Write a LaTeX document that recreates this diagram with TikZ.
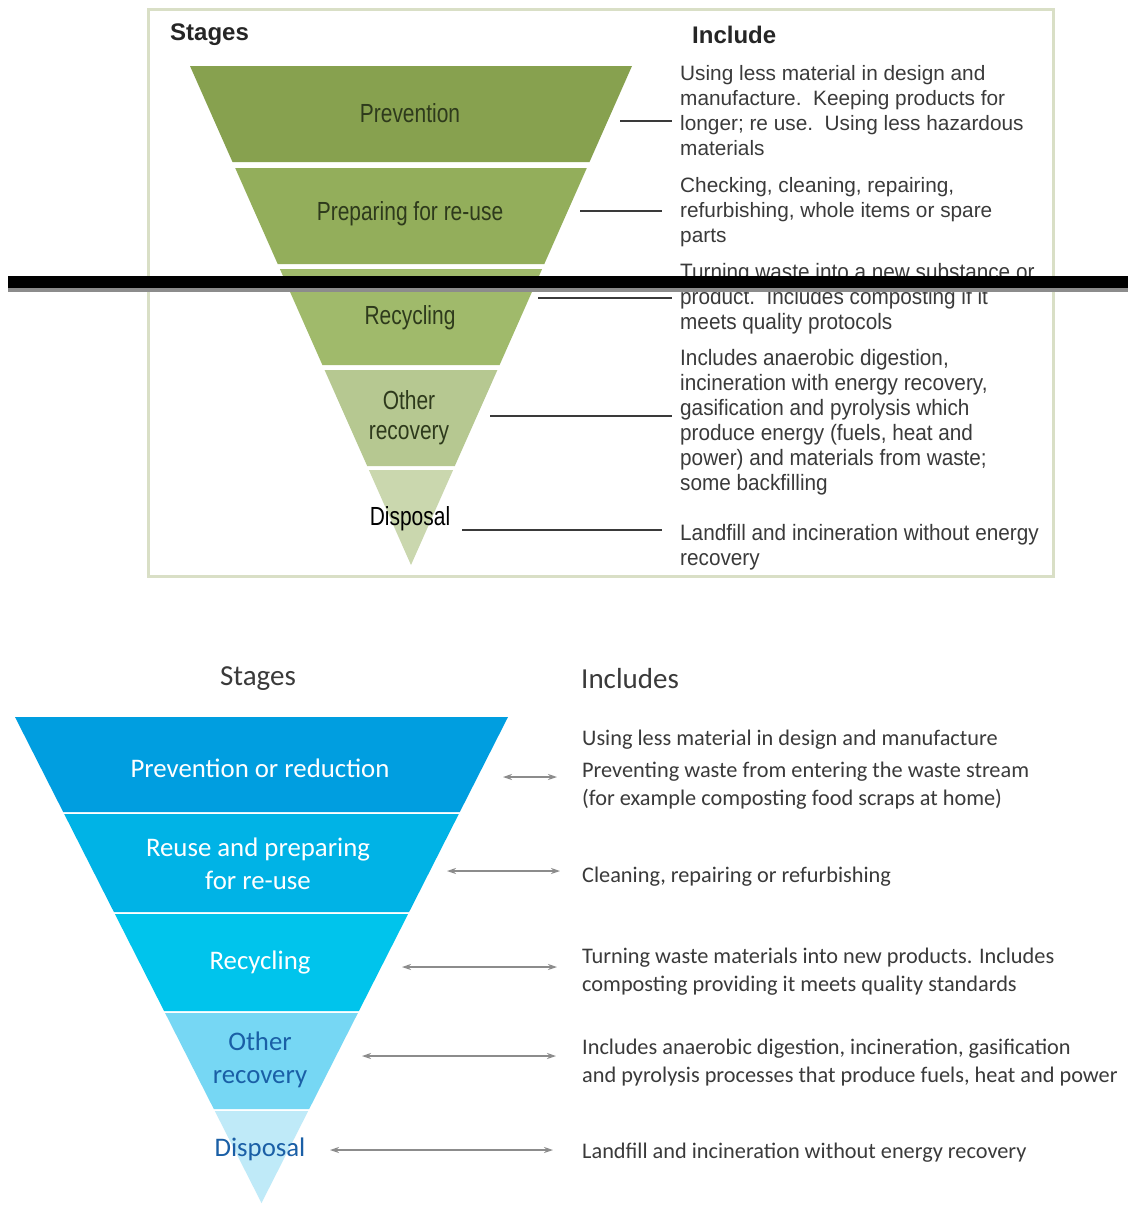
\documentclass[tikz,border=0pt]{standalone}
\usepackage{fontspec}
\usetikzlibrary{arrows.meta}
\setmainfont{Liberation Sans}
\newfontfamily\arialf{Liberation Sans}
\newfontfamily\arialn[FakeStretch=0.93]{Liberation Sans}
\newfontfamily\greenf[FakeStretch=0.8]{Liberation Sans}
\newfontfamily\bluef{Carlito}
\definecolor{gA}{HTML}{87A14F}
\definecolor{gB}{HTML}{93AE5B}
\definecolor{gC}{HTML}{A0BA6B}
\definecolor{gD}{HTML}{B6C891}
\definecolor{gE}{HTML}{CAD7AE}
\definecolor{gtext}{HTML}{2E3A1C}
\definecolor{frame}{HTML}{D9DFC6}
\definecolor{bA}{HTML}{009EE0}
\definecolor{bB}{HTML}{00B3E6}
\definecolor{bC}{HTML}{00C4EC}
\definecolor{bD}{HTML}{76D7F4}
\definecolor{bE}{HTML}{BFEAF8}
\definecolor{btext}{HTML}{1A5FA6}
\definecolor{gray1}{HTML}{3A3A3A}
\definecolor{arrowgray}{HTML}{8C8C8C}
\tikzset{
  toptext/.style={anchor=north west,inner sep=0,align=left,text=gray1,font=\arialf\fontsize{20.8}{25}\selectfont},
  toptextn/.style={anchor=north west,inner sep=0,align=left,text=gray1,font=\arialn\fontsize{22.3}{25}\selectfont},
  greenlabel/.style={inner sep=0,align=center,text=gtext,font=\greenf\fontsize{26.2}{30}\selectfont},
  topline/.style={draw=gray1,line width=2.5pt},
  bluelabel/.style={inner sep=0,align=center,font=\bluef\fontsize{26.8}{33}\selectfont},
  bottext/.style={anchor=north west,inner sep=0,align=left,text=gray1,font=\bluef\fontsize{22.3}{28}\selectfont},
  twoway/.style={draw=arrowgray,line width=2pt,{Stealth[length=9pt,width=6pt]}-{Stealth[length=9pt,width=6pt]}},
}
\begin{document}
\begin{tikzpicture}[x=1pt,y=-1pt]
\useasboundingbox[fill=white] (0,0) rectangle (1128,1205);
% ---------- top (green) ----------
\draw[frame,line width=3pt] (148,9) rectangle (1053,576);
\node[anchor=west,inner sep=0,font=\arialf\bfseries\fontsize{24}{28}\selectfont,text=black!85] (st1) at (170,35) {Stages};
\node[anchor=west,inner sep=0,font=\arialf\bfseries\fontsize{24}{28}\selectfont,text=black!85] (inc1) at (692,35) {Include};
\fill[gA] (190,66) -- (632,66) -- (589.5,162) -- (232.5,162) -- cycle;
\fill[gB] (235.2,168) -- (586.8,168) -- (544.3,264) -- (277.7,264) -- cycle;
\fill[gC] (279.9,269) -- (542.1,269) -- (499.6,365) -- (322.4,365) -- cycle;
\fill[gD] (324.6,370) -- (497.4,370) -- (454.8,466) -- (367.2,466) -- cycle;
\fill[gE] (368.9,470) -- (453.1,470) -- (411,565) -- cycle;
\node[greenlabel] (g1) at (410,113) {Prevention};
\node[greenlabel] (g2) at (410,214) {Preparing for re-use};
\node[greenlabel] (g3) at (410,318) {Recycling};
\node[greenlabel] (g4) at (409,418) {Other\\recovery};
\node[greenlabel,text=black] (g5) at (410,519) {Disposal};
\node[toptext] (t1) at (680,65) {Using less material in design and\\manufacture.\ \ Keeping products for\\longer; re use.\ \ Using less hazardous\\materials};
\node[toptext] (t2) at (680,177) {Checking, cleaning, repairing,\\refurbishing, whole items or spare\\parts};
\node[toptextn] (t3) at (680,263) {Turning waste into a new substance or\\product.\ \ Includes composting if it\\meets quality protocols};
\node[toptextn] (t4) at (680,349) {Includes anaerobic digestion,\\incineration with energy recovery,\\gasification and pyrolysis which\\produce energy (fuels, heat and\\power) and materials from waste;\\some backfilling};
\node[toptextn] (t5) at (680,524) {Landfill and incineration without energy\\recovery};
\coordinate (c1a) at (620,121); \coordinate (c1b) at (672,121);
\coordinate (c2a) at (580,211); \coordinate (c2b) at (662,211);
\coordinate (c3a) at (538,298); \coordinate (c3b) at (672,298);
\coordinate (c4a) at (490,416); \coordinate (c4b) at (672,416);
\coordinate (c5a) at (462,530); \coordinate (c5b) at (662,530);
\draw[topline] (c1a) -- (c1b);
\draw[topline] (c2a) -- (c2b);
\draw[topline] (c3a) -- (c3b);
\draw[topline] (c4a) -- (c4b);
\draw[topline] (c5a) -- (c5b);
% ---------- separator bar ----------
\fill[black] (8,276) rectangle (1128,287.5);
\fill[black!45] (8,287.5) rectangle (1128,292);
% ---------- bottom (blue) ----------
\node[anchor=center,inner sep=0,font=\bluef\fontsize{29}{34}\selectfont,text=gray1] (st2) at (258,679) {Stages};
\node[anchor=west,inner sep=0,font=\bluef\fontsize{29}{34}\selectfont,text=gray1] (inc2) at (581,679) {Includes};
\fill[bA] (15,717) -- (508,717) -- (459.8,812) -- (63.2,812) -- cycle;
\fill[bB] (64.2,814) -- (458.8,814) -- (409.1,912) -- (113.9,912) -- cycle;
\fill[bC] (114.9,914) -- (408.1,914) -- (358.9,1011) -- (164.1,1011) -- cycle;
\fill[bD] (165.1,1013) -- (357.9,1013) -- (309.2,1109) -- (213.8,1109) -- cycle;
\fill[bE] (214.8,1111) -- (308.2,1111) -- (261.5,1203) -- cycle;
\node[bluelabel,text=white] (b1) at (260,768) {Prevention or reduction};
\node[bluelabel,text=white] (b2) at (258,864) {Reuse and preparing\\for re-use};
\node[bluelabel,text=white] (b3) at (260,962) {Recycling};
\node[bluelabel,text=btext] (b4) at (260,1060) {Other\\recovery};
\node[bluelabel,text=btext] (b5) at (260,1149) {Disposal};
\node[bottext] (d1) at (582,730) {Using less material in design and manufacture};
\node[bottext] (d1b) at (582,762) {Preventing waste from entering the waste stream\\(for example composting food scraps at home)};
\node[bottext] (d2) at (582,867) {Cleaning, repairing or refurbishing};
\node[bottext] (d3) at (582,948) {Turning waste materials into new products. Includes\\composting providing it meets quality standards};
\node[bottext] (d4) at (582,1039) {Includes anaerobic digestion, incineration, gasification\\and pyrolysis processes that produce fuels, heat and power};
\node[bottext] (d5) at (582,1143) {Landfill and incineration without energy recovery};
\coordinate (a1a) at (503,777); \coordinate (a1b) at (557,777);
\coordinate (a2a) at (447,871); \coordinate (a2b) at (560,871);
\coordinate (a3a) at (402,967); \coordinate (a3b) at (557,967);
\coordinate (a4a) at (362,1056); \coordinate (a4b) at (556,1056);
\coordinate (a5a) at (330,1150); \coordinate (a5b) at (553,1150);
\draw[twoway] (a1a) -- (a1b);
\draw[twoway] (a2a) -- (a2b);
\draw[twoway] (a3a) -- (a3b);
\draw[twoway] (a4a) -- (a4b);
\draw[twoway] (a5a) -- (a5b);
\end{tikzpicture}
\end{document}
